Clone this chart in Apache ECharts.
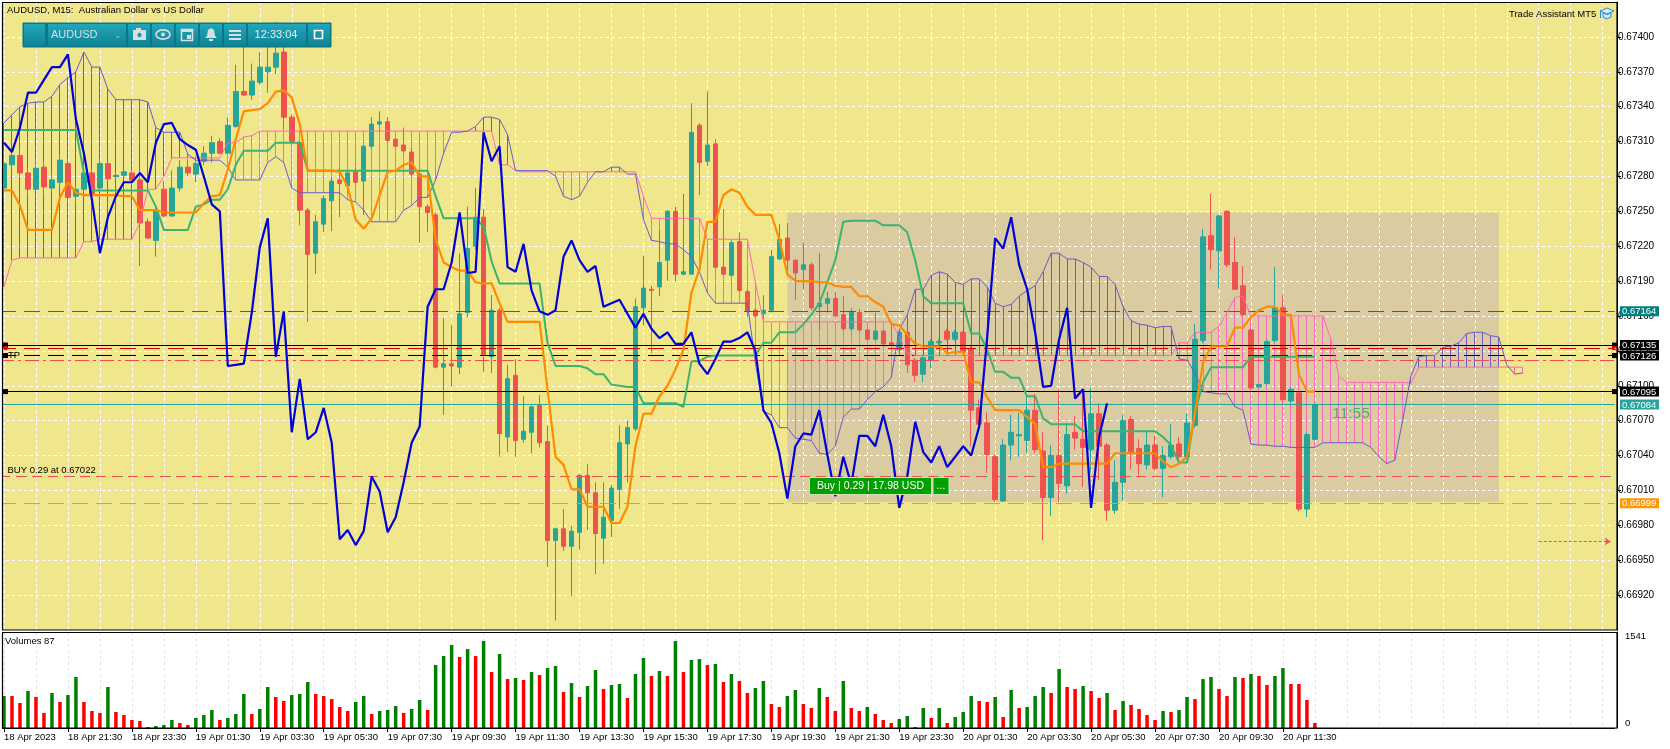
<!DOCTYPE html>
<html><head><meta charset="utf-8"><style>html,body{margin:0;padding:0;background:#fff}#c{width:1670px;height:749px}</style>
<script src="https://cdn.jsdelivr.net/npm/echarts@6/dist/echarts.min.js"></script></head><body><div id="c"></div>
<script>
// prices are in points (1 point = 0.00001)
const xTickLabels=['18 Apr 2023','18 Apr 21:30','18 Apr 23:30','19 Apr 01:30','19 Apr 03:30','19 Apr 05:30','19 Apr 07:30','19 Apr 09:30','19 Apr 11:30','19 Apr 13:30','19 Apr 15:30','19 Apr 17:30','19 Apr 19:30','19 Apr 21:30','19 Apr 23:30','20 Apr 01:30','20 Apr 03:30','20 Apr 05:30','20 Apr 07:30','20 Apr 09:30','20 Apr 11:30'];
const priceTicks=[66920,66950,66980,67010,67040,67070,67100,67130,67160,67190,67220,67250,67280,67310,67340,67370,67400];
const open=[67270,67290,67298,67283,67269,67288,67270,67275,67291,67263,
67269,67283,67270,67291,67280,67281,67283,67277,67241,67225,
67269,67246,67270,67288,67282,67293,67300,67310,67300,67323,
67353,67350,67361,67370,67374,67387,67331,67309,67251,67214,
67239,67259,67277,67272,67284,67276,67306,67325,67327,67312,
67307,67301,67282,67254,67247,67116,67119,67116,67163,67220,
67245,67125,67165,67056,67109,67054,67060,67083,67052,66967,
66977,66962,66974,67023,67008,66969,66984,67011,67050,67063,
67167,67183,67185,67208,67250,67196,67196,67324,67293,67308,
67202,67195,67224,67181,67165,67162,67165,67209,67227,67208,
67200,67204,67168,67171,67175,67161,67149,67163,67148,67140,
67147,67137,67131,67146,67122,67110,67122,67137,67147,67140,
67146,67132,67081,67068,67039,67001,67049,67057,67053,67079,
67044,67004,67040,67014,67060,67054,67045,67076,67049,66993,
67017,67071,67046,67032,67049,67029,67039,67050,67039,67066,
67139,67229,67216,67250,67206,67186,67148,67099,67102,67139,
67167,67087,67094,66994,67054];
const close=[67291,67298,67283,67269,67287,67271,67277,67294,67262,67269,
67283,67265,67291,67278,67281,67284,67277,67240,67227,67251,
67246,67270,67288,67283,67291,67300,67309,67300,67324,67353,
67350,67362,67374,67374,67386,67331,67310,67251,67213,67241,
67261,67276,67274,67283,67275,67306,67325,67327,67311,67306,
67302,67282,67254,67249,67116,67119,67117,67162,67218,67245,
67126,67165,67059,67106,67053,67061,67082,67051,66967,66977,
66962,66975,67023,67008,66973,66987,67012,67051,67064,67168,
67184,67182,67206,67250,67196,67198,67318,67292,67307,67202,
67196,67223,67182,67164,67160,67165,67211,67226,67208,67197,
67204,67167,67171,67175,67160,67149,67164,67148,67140,67147,
67136,67135,67146,67118,67109,67124,67138,67138,67140,67146,
67129,67079,67067,67041,67002,67049,67060,67058,67079,67045,
67004,67040,67016,67058,67055,67047,67076,67048,66993,67017,
67070,67043,67033,67049,67029,67040,67049,67039,67068,67140,
67228,67217,67246,67204,67183,67161,67098,67101,67138,67167,
67088,67097,66994,67058,67084];
const low=[67260,67286,67279,67264,67267,67264,67267,67271,67256,67256,
67266,67260,67267,67275,67277,67279,67273,67203,67226,67211,
67245,67245,67267,67280,67275,67290,67292,67299,67299,67322,
67349,67346,67359,67352,67368,67320,67308,67238,67155,67196,
67232,67233,67245,67269,67274,67247,67304,67318,67309,67305,
67300,67280,67223,67232,67115,67075,67099,67110,67159,67217,
67112,67111,67039,67043,67039,67051,67042,67047,66944,66898,
66958,66919,66959,66976,66938,66947,66970,66994,67017,67061,
67152,67128,67177,67190,67190,67195,67196,67264,67289,67201,
67195,67194,67181,67159,67159,67157,67163,67208,67194,67174,
67183,67165,67148,67163,67159,67147,67147,67146,67140,67139,
67135,67134,67125,67111,67103,67103,67115,67135,67139,67139,
67128,67048,67066,67025,67000,67000,67036,67039,67042,67042,
66967,66988,67000,67007,67045,67013,67025,67019,66984,66990,
67001,67028,67023,67028,67027,67004,67037,67034,67037,67064,
67137,67200,67184,67202,67183,67159,67097,67098,67100,67137,
67086,67085,66992,66987,67053];
const high=[67303,67303,67303,67288,67294,67293,67282,67299,67294,67273,
67288,67286,67294,67293,67284,67286,67286,67281,67244,67256,
67276,67285,67294,67295,67297,67306,67315,67313,67331,67376,
67406,67377,67387,67392,67413,67394,67333,67311,67253,67247,
67264,67279,67288,67286,67288,67307,67331,67336,67331,67313,
67322,67305,67284,67256,67249,67158,67152,67214,67254,67270,
67252,67178,67167,67118,67123,67091,67083,67092,67066,66978,
66994,66980,67024,67033,67017,67017,67015,67066,67070,67175,
67212,67186,67234,67251,67254,67265,67343,67326,67353,67312,
67252,67225,67232,67183,67167,67178,67217,67239,67240,67209,
67223,67206,67214,67181,67181,67177,67167,67166,67149,67163,
67148,67152,67148,67147,67124,67126,67140,67140,67149,67148,
67147,67134,67088,67077,67041,67054,67075,67077,67091,67093,
67060,67049,67097,67068,67074,67094,67098,67085,67051,67036,
67075,67074,67054,67062,67057,67048,67067,67056,67076,67153,
67235,67265,67247,67251,67228,67203,67150,67102,67140,67202,
67178,67099,67096,67060,67085];
const chikou=[67309,67301,67322,67352,67352,67363,67374,67374,67385,67329,
67300,67260,67214,67245,67263,67275,67275,67283,67275,67309,
67325,67326,67312,67307,67303,67280,67256,67250,67117,67118,
67119,67163,67219,67244,67125,67164,67060,67106,67054,67060,
67081,67051,66968,66976,66963,66975,67022,67009,66974,66987,
67017,67051,67065,67168,67183,67183,67206,67249,67197,67198,
67318,67293,67306,67202,67198,67222,67182,67164,67161,67165,
67211,67225,67208,67198,67203,67168,67171,67174,67162,67150,
67162,67149,67141,67146,67136,67136,67146,67119,67110,67123,
67138,67138,67141,67146,67130,67079,67068,67042,67003,67048,
67059,67058,67079,67041,67005,67039,67015,67057,67057,67048,
67075,67048,66995,67022,67069,67043,67034,67048,67030,67039,
67048,67040,67065,67142,67227,67218,67245,67204,67183,67146,
67099,67100,67140,67167,67089,67097,66995,67056,67085];
const tenkan=[67268,67268,67255,67234,67234,67234,67234,67262,67275,67266,
67264,67264,67264,67264,67264,67263,67263,67251,67251,67251,
67249,67249,67249,67249,67249,67257,67263,67264,67286,67312,
67336,67337,67338,67343,67353,67354,67348,67325,67285,67285,
67285,67285,67284,67271,67243,67235,67244,67264,67284,67285,
67290,67292,67280,67280,67226,67206,67202,67199,67199,67189,
67188,67188,67171,67155,67155,67155,67155,67155,67097,67039,
67032,67011,67011,66996,66996,66996,66982,66982,66996,67048,
67076,67076,67091,67100,67114,67131,67180,67200,67241,67241,
67264,67269,67266,67254,67247,67247,67247,67226,67196,67190,
67190,67190,67189,67189,67186,67185,67185,67177,67177,67172,
67168,67153,67152,67144,67136,67134,67134,67134,67128,67129,
67129,67103,67103,67090,67079,67079,67079,67079,67073,67067,
67030,67030,67033,67033,67033,67033,67033,67033,67033,67042,
67042,67042,67042,67042,67042,67035,67030,67033,67039,67077,
67120,67134,67134,67134,67150,67150,67159,67165,67168,67168,
67161,67161,67110,67095,67095];
const kijun=[67320,67320,67320,67320,67320,67320,67320,67320,67320,67320,
67283,67268,67268,67268,67268,67268,67268,67268,67268,67254,
67234,67234,67234,67234,67254,67256,67260,67260,67269,67290,
67302,67302,67302,67302,67309,67309,67309,67309,67285,67285,
67285,67285,67285,67285,67285,67285,67285,67285,67285,67285,
67285,67285,67285,67285,67263,67244,67244,67244,67244,67244,
67237,67207,67188,67188,67188,67188,67188,67188,67137,67117,
67117,67117,67117,67115,67110,67110,67101,67100,67099,67099,
67085,67085,67085,67085,67085,67082,67121,67121,67125,67126,
67126,67126,67126,67126,67126,67137,67137,67146,67146,67146,
67153,67161,67171,67189,67208,67241,67242,67242,67242,67242,
67238,67238,67238,67232,67208,67177,67171,67171,67171,67171,
67171,67145,67145,67131,67112,67112,67107,67107,67091,67091,
67072,67067,67067,67067,67067,67061,67061,67061,67061,67061,
67061,67061,67061,67061,67061,67056,67049,67034,67034,67077,
67103,67116,67116,67116,67116,67116,67125,67125,67125,67125,
67125,67125,67125,67125,67125];
const senkouA=[67185,67208,67210,67210,67210,67210,67210,67210,67210,67210,
67224,67224,67226,67226,67226,67226,67226,67240,67269,67269,
67280,67296,67296,67296,67296,67296,67296,67296,67309,67309,
67314,67315,67319,67319,67319,67319,67319,67319,67319,67319,
67319,67319,67319,67319,67319,67319,67319,67319,67319,67319,
67319,67319,67319,67319,67319,67319,67319,67319,67319,67319,
67319,67319,67290,67290,67285,67284,67284,67284,67284,67284,
67284,67284,67284,67284,67284,67284,67284,67284,67284,67284,
67263,67244,67244,67244,67244,67244,67244,67244,67226,67226,
67226,67226,67226,67226,67189,67155,67155,67155,67155,67155,
67155,67155,67155,67155,67155,67155,67155,67155,67155,67155,
67155,67155,67142,67128,67126,67126,67126,67126,67126,67126,
67126,67126,67126,67126,67126,67126,67126,67126,67126,67126,
67126,67126,67126,67126,67126,67126,67126,67126,67126,67126,
67126,67126,67126,67126,67126,67126,67126,67137,67137,67146,
67146,67146,67151,67163,67176,67177,67160,67160,67160,67160,
67160,67160,67160,67160,67160,67160,67140,67108,67103,67103,
67103,67103,67103,67103,67103,67103,67102,67116,67116,67116,
67116,67116,67116,67116,67116,67116,67116,67116,67116,67116,67116];
const senkouB=[67326,67333,67340,67343,67344,67344,67349,67359,67365,67370,
67387,67374,67374,67355,67346,67346,67346,67346,67344,67322,
67318,67318,67318,67299,67294,67294,67294,67294,67288,67277,
67277,67277,67277,67292,67297,67292,67270,67266,67266,67266,
67266,67266,67266,67260,67258,67251,67241,67241,67241,67241,
67251,67255,67262,67262,67277,67300,67318,67318,67319,67323,
67331,67331,67329,67316,67285,67285,67285,67285,67285,67280,
67263,67260,67263,67275,67284,67284,67288,67288,67282,67282,
67243,67225,67224,67222,67222,67217,67211,67198,67180,67171,
67171,67171,67171,67171,67120,67078,67075,67064,67064,67055,
67054,67053,67042,67041,67048,67073,67080,67080,67088,67095,
67099,67107,67148,67161,67183,67183,67195,67198,67196,67189,
67187,67192,67192,67185,67171,67168,67170,67177,67182,67186,
67198,67214,67214,67209,67209,67206,67202,67194,67194,67187,
67168,67156,67153,67152,67150,67151,67151,67123,67122,67111,
67095,67094,67093,67093,67082,67079,67050,67049,67049,67048,
67048,67047,67047,67047,67047,67051,67051,67051,67051,67051,
67051,67047,67039,67033,67036,67071,67108,67125,67126,67126,
67133,67134,67137,67145,67146,67146,67143,67142,67118,67110,67111];
const volumes=[566,566,443,655,549,266,620,460,584,903,
460,301,266,726,283,230,142,124,18,35,
53,142,89,53,177,230,319,142,177,248,
602,248,336,726,549,478,584,602,814,602,
566,513,372,301,460,566,248,301,319,389,
266,336,496,319,1115,1274,1469,1257,1398,1274,
1540,991,1310,867,885,850,991,938,1062,1097,
637,797,549,743,1027,690,761,779,531,956,
1239,920,1009,920,1540,991,1204,1221,1115,1133,
814,956,832,620,708,832,425,372,566,673,
425,354,708,549,301,832,354,301,372,248,
142,89,159,212,18,354,177,354,89,195,
283,566,478,460,549,195,673,354,372,566,
726,620,1044,726,690,743,655,531,620,319,
478,407,336,230,142,301,283,319,549,513,
867,903,690,566,903,885,956,920,761,920,
1062,779,779,496,89];
const volumeUp=[1,0,0,1,0,0,1,0,1,1,0,0,0,1,0,0,0,0,0,1,
1,1,0,0,1,1,1,0,1,1,1,0,1,1,0,0,1,1,1,0,
0,0,0,0,1,1,0,1,1,1,0,1,1,0,1,1,1,0,1,0,
1,0,1,0,1,0,1,0,1,1,0,1,0,1,1,0,1,1,0,1,
1,0,1,0,1,0,1,1,0,1,0,1,0,0,1,1,0,0,1,1,
0,0,1,0,0,1,0,0,1,0,0,0,1,1,0,1,0,1,0,1,
1,1,0,0,1,0,1,0,1,1,1,0,1,0,0,1,0,0,1,0,
1,0,0,0,0,1,0,1,1,0,1,1,0,0,1,0,1,0,0,1,
1,0,0,0,0];
const levels={teal:67164,blackTop:67135,redDash:67132,blackDash:67126,redDot:67122,blackLow:67095,last:67084,buy:67022,orange:66999};
const tradeBox={fromIndex:98,toIndex:187,top:67249,bottom:67000};
const arrow={fromIndex:192,toIndex:201,price:66966};

const FONT='"Liberation Sans",Arial,sans-serif';
const N=202;
const categories=[];for(let i=0;i<N;i++)categories.push(i%8===0&&xTickLabels[i/8]?xTickLabels[i/8]:'');
const candle=open.map((o,i)=>[o,close[i],low[i],high[i]]);
const hatch=senkouA.map((a,i)=>[i,a,senkouB[i]]);
const PINK='#ff69b4',PURPLE='#6a5acd',TEAL='#26a69a',RED='#ef5350';
const lv=(v,color,type,width)=>({yAxis:v,lineStyle:{color:color,type:type,width:width}});
const fmt=v=>(v/100000).toFixed(5);
const GL=-1.333,GW=8*N;
const chart=echarts.init(document.getElementById('c'),null,{renderer:'canvas'});
chart.setOption({
 animation:false,backgroundColor:'#fff',
 grid:[{left:GL,top:2,width:GW,height:628},{left:GL,top:632,width:GW,height:96}],
 xAxis:[
  {type:'category',gridIndex:0,data:categories,boundaryGap:true,z:1,axisLine:{show:false},axisTick:{show:false},axisLabel:{show:false},
   splitLine:{show:true,alignWithLabel:true,interval:i=>i%4===0,lineStyle:{color:'#ffffff',width:1,type:[3,3]}}},
  {type:'category',gridIndex:1,data:categories,boundaryGap:true,z:1,axisLine:{show:true,onZero:false,lineStyle:{color:'#000',width:1}},
   axisTick:{show:true,alignWithLabel:true,length:4,interval:i=>i%8===0&&i<=160,lineStyle:{color:'#000'}},
   axisLabel:{show:true,interval:i=>i%8===0&&i<=160,align:'left',margin:4,fontFamily:FONT,fontSize:9.5,color:'#000',hideOverlap:false},
   splitLine:{show:true,alignWithLabel:true,interval:i=>i%4===0,lineStyle:{color:'#e2e2e2',width:1,type:[3,3]}}}
 ],
 yAxis:[
  {type:'value',gridIndex:0,position:'right',offset:2.33,min:66890,max:67430,z:1,
   axisLine:{show:true,lineStyle:{color:'#000',width:1}},
   axisTick:{show:true,length:4,customValues:priceTicks,lineStyle:{color:'#000'}},
   axisLabel:{show:true,customValues:priceTicks,formatter:fmt,margin:1,fontFamily:FONT,fontSize:10,color:'#000'},
   splitLine:{show:true,lineStyle:{color:'#ffffff',width:1,type:[3,3]}}},
  {type:'value',gridIndex:1,position:'right',offset:2.33,min:0,max:1700,z:1,
   axisLine:{show:true,lineStyle:{color:'#000',width:1}},
   axisTick:{show:false,customValues:[0,1541]},
   axisLabel:{show:true,customValues:[0,1541],formatter:v=>String(v),margin:8,verticalAlign:'bottom',fontFamily:FONT,fontSize:9.5,color:'#000'},
   splitLine:{show:false}}
 ],
 series:[
  {name:'box',type:'line',xAxisIndex:0,yAxisIndex:0,data:[],z:0,silent:true,
   markArea:{silent:true,z:0,itemStyle:{color:'#dbcba0',opacity:1},label:{show:false},
    data:[[{xAxis:tradeBox.fromIndex,yAxis:tradeBox.top},{xAxis:tradeBox.toIndex,yAxis:tradeBox.bottom}]]}},
  {name:'hatch',type:'custom',xAxisIndex:0,yAxisIndex:0,z:2,silent:true,clip:true,data:hatch,encode:{x:0,y:[1,2]},
   renderItem:(p,api)=>{const i=api.value(0),a=api.value(1),b=api.value(2);if(Math.abs(a-b)<3)return null;
    const p1=api.coord([i,a]),p2=api.coord([i,b]);const x=Math.floor(p1[0])+0.5;
    return {type:'line',shape:{x1:x,y1:p1[1],x2:x,y2:p2[1]},style:{stroke:a>b?PINK:PURPLE,lineWidth:1}};}},
  {name:'price',type:'candlestick',xAxisIndex:0,yAxisIndex:0,z:3,silent:true,data:candle,barWidth:5,clip:true,
   itemStyle:{color:TEAL,color0:RED,borderColor:TEAL,borderColor0:RED,borderWidth:1}},
  {name:'levels',type:'line',xAxisIndex:0,yAxisIndex:0,data:[],z:4,silent:true,
   markLine:{silent:true,z:4,symbol:'none',label:{show:false},animation:false,data:[
    lv(levels.teal,'#008080',[16,8],1.2),
    lv(levels.blackTop,'#000',"solid",1.2),
    lv(levels.redDash,'#e00000',[16,8],1.2),
    lv(levels.blackDash,'#000',[16,8],1.2),
    lv(levels.redDot,'#f44c4c',[14,4,3,4],1.2),
    lv(levels.blackLow,'#000',"solid",1.2),
    lv(levels.last,TEAL,"solid",1),
    lv(levels.buy,'#26a69a',[3,21],1.2),
    lv(levels.buy,'#f44c4c',[10,6],1.2),
    lv(levels.orange,'#ff9800',[16,8],1.2)
   ]}},
  {name:'senkouA',type:'line',xAxisIndex:0,yAxisIndex:0,z:5,silent:true,data:senkouA,showSymbol:false,symbol:'none',lineStyle:{color:PINK,width:1}},
  {name:'senkouB',type:'line',xAxisIndex:0,yAxisIndex:0,z:5,silent:true,data:senkouB,showSymbol:false,symbol:'none',lineStyle:{color:PURPLE,width:1}},
  {name:'kijun',type:'line',xAxisIndex:0,yAxisIndex:0,z:6,silent:true,data:kijun,showSymbol:false,symbol:'none',lineStyle:{color:'#3cb371',width:2}},
  {name:'tenkan',type:'line',xAxisIndex:0,yAxisIndex:0,z:7,silent:true,data:tenkan,showSymbol:false,symbol:'none',lineStyle:{color:'#ff8c00',width:2.2}},
  {name:'chikou',type:'line',xAxisIndex:0,yAxisIndex:0,z:8,silent:true,data:chikou,showSymbol:false,symbol:'none',lineStyle:{color:'#0000d8',width:2.2}},
  {name:'arrow',type:'line',xAxisIndex:0,yAxisIndex:0,z:8,silent:true,data:[],
   markLine:{silent:true,z:8,symbol:['none','arrow'],symbolSize:6,label:{show:false},
    lineStyle:{color:'#ef5350',type:[3,2],width:1},
    data:[[{xAxis:arrow.fromIndex,yAxis:arrow.price},{xAxis:arrow.toIndex,yAxis:arrow.price}]]}},
  {name:'volume',type:'bar',xAxisIndex:1,yAxisIndex:1,z:3,silent:true,barWidth:3.5,
   data:volumes.map((v,i)=>({value:v,itemStyle:{color:volumeUp[i]?'#008000':'#ff0000'}}))}
 ]
});
const Y=v=>chart.convertToPixel({yAxisIndex:0},v);
const tags=[[levels.teal,'#008080','#fff'],[levels.blackTop,'#000','#fff'],[levels.blackDash,'#000','#fff'],[levels.blackLow,'#000','#fff'],[levels.last,TEAL,'#fff'],[levels.orange,'#ff9800','#fff']];
const G=[];
const rect=(x,y,w,h,fill,stroke,z,lw)=>G.push({type:'rect',shape:{x:x,y:y,width:w,height:h},style:{fill:fill||'none',stroke:stroke||'none',lineWidth:lw||1},z:z,silent:true});
const text=(x,y,s,color,size,z,align,extra)=>G.push({type:'text',x:x,y:y,style:Object.assign({text:s,fill:color,font:size+'px '+FONT,textAlign:align||'left',textVerticalAlign:'middle'},extra||{}),z:z,silent:true});
rect(2,2,1615,628,'#f0e68c',null,-1);
rect(0,0,2,749,'#fff',null,40);
rect(2.5,2.5,1614.5,627.5,null,'#000',41,1.2);
rect(2.5,632.5,1614.5,95.5,null,'#000',41,1.2);
tags.forEach(t=>{const y=Y(t[0]);rect(1620,y-5,39,10,t[1],null,60);text(1622,y+0.5,fmt(t[0]),t[2],9.5,61);});
[levels.blackTop,levels.blackDash,levels.blackLow].forEach(v=>{const y=Y(v);rect(3,y-2.5,5,5,'#000',null,42);rect(1612,y-2.5,5,5,'#000',null,42);});
rect(4,Y(levels.redDash)-2,3,3,null,'#e00000',43);rect(1612.5,Y(levels.redDash)-2,4,3,null,'#e00000',43);
text(8,Y(levels.blackDash),'TP','#000',9.5,44);
text(7.5,Y(levels.buy)-6,'BUY 0.29 at 0.67022','#000',9.5,44);
text(7,10,'AUDUSD, M15:  Australian Dollar vs US Dollar','#000',9.5,44);
text(1509,14,'Trade Assistant MT5','#000',9.5,44);
text(5,641.5,'Volumes 87','#000',9.5,44);
text(1351,414,'11:55','#3cb371',15.5,30,'center');
G.push({type:'polygon',shape:{points:[[1600,11],[1607,8],[1614,11],[1607,14]]},style:{fill:'#cfe8fb',stroke:'#2a8fd0',lineWidth:1},z:44,silent:true});
G.push({type:'polygon',shape:{points:[[1603,13],[1603,17],[1607,19],[1611,17],[1611,13],[1607,14.5]]},style:{fill:'#cfe8fb',stroke:'#2a8fd0',lineWidth:1},z:44,silent:true});
G.push({type:'line',shape:{x1:1600.5,y1:11,x2:1600.5,y2:18},style:{stroke:'#2a8fd0',lineWidth:1},z:44,silent:true});
rect(809.5,477.5,122,17,'#00a000','#cfe3b8',45);rect(933,477.5,16,17,'#00a000','#cfe3b8',45);
text(817,486.5,'Buy | 0.29 | 17.98 USD','#fff',10.5,46);text(941,486,'...','#fff',10.5,46,'center');
const tg=new echarts.graphic.LinearGradient(0,0,0,1,[{offset:0,color:'#22a6b8'},{offset:1,color:'#0e8496'}]);
rect(23,23,308,24,'#0b7686','#0b7686',50);
[[24,21],[48,78],[128,22],[152,22],[176,22],[200,22],[224,22],[248,58],[308,22]].forEach(s=>rect(s[0],24,s[1],22,tg,null,51));
text(51,34.5,'AUDUSD','#d5e2e4',11,52);
text(118,36,'\u2304','#8fc7cf',9,52,'center');
text(276,34.5,'12:33:04','#e4eef0',11,52,'center');
const W='#d8dfe0';
rect(133,30,13,10,W,null,52);rect(136,28,5,2,W,null,52);G.push({type:'circle',shape:{cx:139.5,cy:35,r:2.6},style:{fill:'#1596a8',stroke:W},z:53,silent:true});
G.push({type:'ellipse',shape:{cx:163,cy:34.5,rx:7,ry:4.6},style:{fill:'none',stroke:W,lineWidth:1.6},z:52,silent:true});
G.push({type:'circle',shape:{cx:163,cy:34.5,r:2},style:{fill:W},z:52,silent:true});
rect(181.5,29.5,11,11,null,W,52,1.6);rect(181,29,12,3,W,null,52);rect(187,35,4,4,W,null,52);
G.push({type:'polygon',shape:{points:[[211,28],[214,30],[215,36],[217,38],[205,38],[207,36],[208,30]]},style:{fill:W},z:52,silent:true});
rect(209,39,4,2,W,null,52);
[30,34,38].forEach(y=>rect(229,y,12,2,W,null,52));
rect(314.5,30.5,8,8,null,'#fff',52,1.6);
chart.setOption({graphic:{elements:G}});
</script></body></html>
